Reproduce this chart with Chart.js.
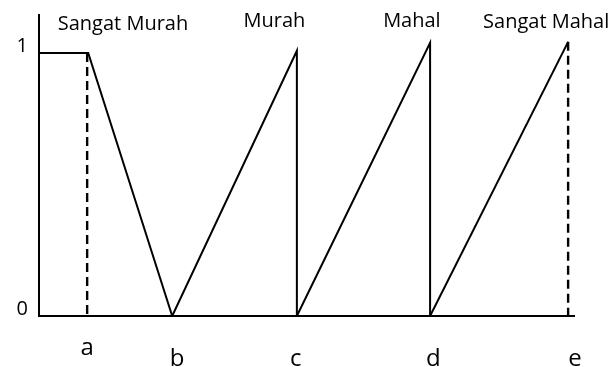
<!DOCTYPE html>
<html>
<head>
<meta charset="utf-8">
<script src="https://cdn.jsdelivr.net/npm/chart.js@4"></script>
<style>
  html, body { margin: 0; padding: 0; background: #fff; }
  #wrap { width: 614px; height: 367px; position: relative; }
</style>
</head>
<body>
<div id="wrap"><canvas id="chart"></canvas></div>
<script>
// positions on the price axis (0..100) and membership values
const breakX = [9.2, 24.9, 48.2, 73.1, 98.9];   // a, b, c, d, e
const peakY = [1, 1.008, 1.038, 1.042];         // top of each set
const dashA = 9.0;

const letters = ['a', 'b', 'c', 'd', 'e'];
const letterX = [9.0, 25.8, 48.0, 73.7, 100.2];
const letterRaised = [true, false, false, false, false];

const setNames = ['Sangat Murah', 'Murah', 'Mahal', 'Sangat Mahal'];
const nameX = [15.7, 44.0, 69.7, 94.8];
const nameY = [1.087, 1.099, 1.099, 1.095];

const yTicks = [0, 1];

const sangatMurah = [{ x: 0, y: peakY[0] }, { x: breakX[0], y: peakY[0] }, { x: breakX[1], y: 0 }];
const murah = [{ x: breakX[1], y: 0 }, { x: breakX[2], y: peakY[1] }, { x: breakX[2], y: 0 }];
const mahal = [{ x: breakX[2], y: 0 }, { x: breakX[3], y: peakY[2] }, { x: breakX[3], y: 0 }];
const sangatMahal = [{ x: breakX[3], y: 0 }, { x: breakX[4], y: peakY[3] }];
const guideA = [{ x: dashA, y: peakY[0] }, { x: dashA, y: 0 }];
const guideE = [{ x: breakX[4], y: peakY[3] }, { x: breakX[4], y: 0 }];

Chart.defaults.font.family = '"Open Sans", sans-serif';
Chart.defaults.color = '#000';

function solid(data) {
  return { data, borderColor: '#000', borderWidth: 2, pointRadius: 0, tension: 0 };
}
function dashed(data) {
  return { data, borderColor: '#000', borderWidth: 2.4, pointRadius: 0, borderDash: [9, 5] };
}

const labelPlugin = {
  id: 'labels',
  afterDraw(chart) {
    const { ctx, scales: { x, y } } = chart;
    ctx.save();
    ctx.fillStyle = '#000';
    ctx.textAlign = 'center';
    ctx.textBaseline = 'alphabetic';
    ctx.font = '20px "Open Sans"';
    setNames.forEach((name, i) => {
      ctx.fillText(name, x.getPixelForValue(nameX[i]), y.getPixelForValue(nameY[i]));
    });
    ctx.font = '24px "Open Sans"';
    const base = y.getPixelForValue(0);
    letters.forEach((l, i) => {
      ctx.fillText(l, x.getPixelForValue(letterX[i]), base + (letterRaised[i] ? 39 : 50));
    });
    ctx.restore();
  }
};

new Chart(document.getElementById('chart'), {
  type: 'line',
  data: {
    datasets: [
      solid(sangatMurah),
      solid(murah),
      solid(mahal),
      solid(sangatMahal),
      dashed(guideA),
      dashed(guideE),
    ],
  },
  options: {
    responsive: true,
    maintainAspectRatio: false,
    animation: false,
    layout: { padding: { top: 15, right: 40, left: 0, bottom: 0 } },
    plugins: { legend: { display: false }, tooltip: { enabled: false } },
    scales: {
      x: {
        type: 'linear',
        min: 0,
        max: 100,
        grid: { display: false, drawTicks: false },
        border: { display: true, color: '#000', width: 2 },
        ticks: { display: false },
        afterFit(scale) {
          scale.height = 51;
          scale.paddingLeft = 0;
          scale.paddingRight = 0;
        },
      },
      y: {
        type: 'linear',
        min: 0,
        max: 1.144,
        grid: { display: false, drawTicks: false },
        border: { display: true, color: '#000', width: 2 },
        afterBuildTicks(scale) { scale.ticks = yTicks.map(v => ({ value: v })); },
        ticks: {
          font: { size: 20 },
          color: '#000',
          padding: 11,
          labelOffset: -7,
          callback: v => String(v),
        },
        afterFit(scale) {
          scale.width = 39;
          scale.paddingTop = 0;
          scale.paddingBottom = 0;
        },
      },
    },
  },
  plugins: [labelPlugin],
});
</script>
</body>
</html>
